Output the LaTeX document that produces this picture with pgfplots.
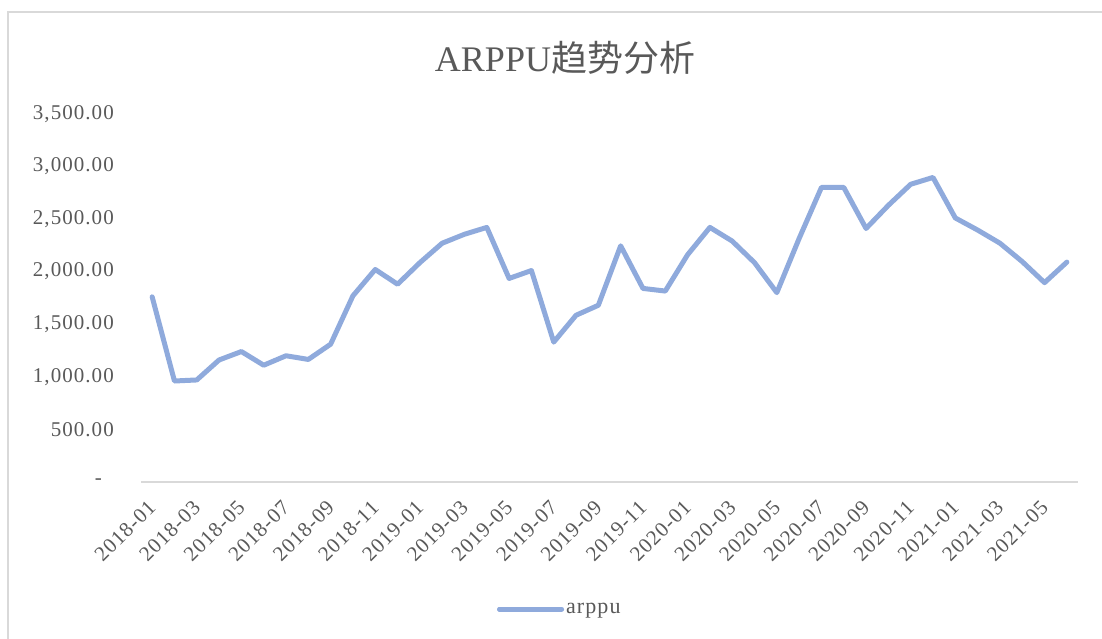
\documentclass[border=0pt]{standalone}
\usepackage{pgfplots}
\pgfplotsset{compat=1.18}
\usepackage{fontspec}
\setmainfont{Liberation Serif}
\newfontfamily\tickfont[LetterSpace=5]{Liberation Serif}
\newfontfamily\cjk{Noto Sans CJK SC}
\definecolor{linec}{RGB}{143,170,220}
\definecolor{txt}{RGB}{89,89,89}
\definecolor{axc}{RGB}{217,217,217}
\pgfplotstableread{
x y
0 1760
1 960
2 970
3 1160
4 1240
5 1110
6 1200
7 1165
8 1310
9 1770
10 2020
11 1880
12 2085
13 2270
14 2355
15 2420
16 1935
17 2010
18 1330
19 1585
20 1680
21 2245
22 1840
23 1815
24 2160
25 2420
26 2290
27 2085
28 1800
29 2315
30 2800
31 2800
32 2410
33 2630
34 2830
35 2895
36 2510
37 2395
38 2270
39 2095
40 1895
41 2090
}\datatable
\begin{document}
\begin{tikzpicture}[x=1pt,y=1pt]
\path[use as bounding box] (0,0) rectangle (1102,639);
\draw[axc, line width=2pt] (7.5,0) -- (7.5,627) -- (1102,627);
\node[txt, font=\fontsize{36}{40}\selectfont] at (565,581) {ARPPU{\cjk 趋势分析}};
\begin{axis}[
  at={(141pt,157pt)}, anchor=south west,
  width=937pt, height=368.2pt, scale only axis,
  xmin=-0.5, xmax=41.5, ymin=0, ymax=3500,
  axis line style={draw=none},
  tick style={draw=none},
  xtick={0,2,...,40},
  xticklabels={2018-01,2018-03,2018-05,2018-07,2018-09,2018-11,2019-01,2019-03,2019-05,2019-07,2019-09,2019-11,2020-01,2020-03,2020-05,2020-07,2020-09,2020-11,2021-01,2021-03,2021-05},
  ytick={0,500,...,3500},
  yticklabels={{-\hspace*{12pt}},{500.00},{1,000.00},{1,500.00},{2,000.00},{2,500.00},{3,000.00},{3,500.00}},
  yticklabel style={anchor=east, inner sep=0pt, xshift=-27pt, font=\tickfont\fontsize{21}{23}\selectfont, text=txt},
  xticklabel style={xshift=0pt, yshift=-22pt, rotate=45, anchor=east, inner sep=0pt, font=\tickfont\fontsize{21}{23}\selectfont, text=txt},
  clip=false,
  legend style={at={(0.447,-0.345)}, anchor=center, draw=none, fill=none, font=\tickfont\fontsize{22}{24}\selectfont, text=txt},
  legend image code/.code={\path (0pt,0pt) -- (62pt,0pt); \draw[#1, line width=5pt, line cap=round] (0pt,0pt) -- (55pt,0pt);},
]
\draw[axc, line width=1.5pt] (axis cs:-0.5,0) -- (axis cs:41.5,0);
\addplot[linec, line width=5pt, line join=round, line cap=round] table[x=x,y=y] {\datatable};
\addlegendentry{arppu}
\end{axis}
\end{tikzpicture}
\end{document}
